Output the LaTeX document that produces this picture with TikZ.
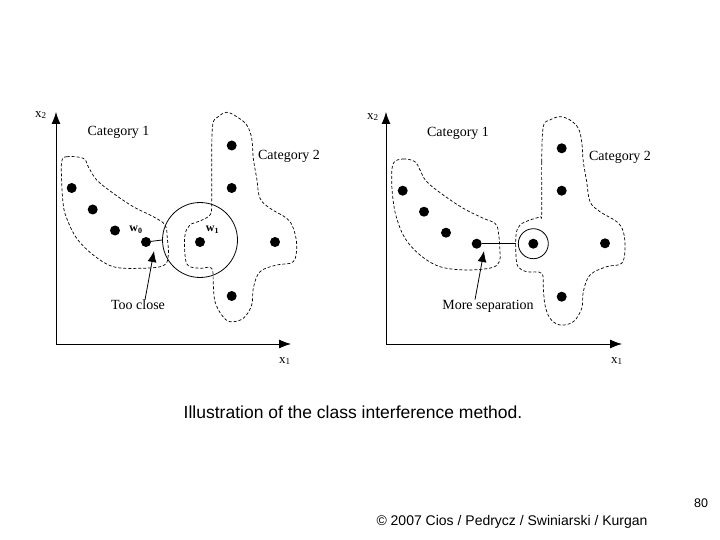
\documentclass[tikz,border=0pt]{standalone}
\usepackage{fontspec}
\setmainfont{Liberation Serif}
\newfontfamily\capfont{Liberation Sans}
\usetikzlibrary{arrows.meta}

\begin{document}
\begin{tikzpicture}[x=1pt,y=-1pt,
  dot/.style={circle,fill=black,inner sep=0pt,minimum size=10pt},
  region/.style={dash pattern=on 3pt off 2pt,line width=0.7pt},
  axis/.style={line width=0.8pt,-{Latex[length=12pt,width=9pt]}},
  pointer/.style={line width=0.8pt,-{Latex[length=11pt,width=9pt]}},
  lbl/.style={font=\fontsize{14}{16}\selectfont,inner sep=0pt},
  xlbl/.style={font=\fontsize{13}{15}\selectfont,inner sep=0pt},
  wlbl/.style={font=\fontsize{12}{14}\selectfont\bfseries,inner sep=0pt}]
\useasboundingbox (0,0) rectangle (720,540);

% Left panel: axes.
\coordinate (Lo) at (56,344);
\coordinate (Ly) at (56,112);
\coordinate (Lx) at (291,344);
\draw[axis] (Lo) -- (Ly);
\draw[axis] (Lo) -- (Lx);
\node[xlbl] (Lxlab) at (285,361) {x\textsubscript{1}};
\node[xlbl] (Lylab) at (41,115) {x\textsubscript{2}};

% Left panel: category regions.
\draw[region] plot[smooth cycle,tension=0.6] coordinates {
  (61.7,161.7) (66.7,156.7) (83.3,158.3) (88.3,166.7) (96.7,180)
  (113.3,193.3) (133.3,206.7) (153.3,216.7) (165,225) (167.3,238.3)
  (168.3,255) (163.3,265.7) (140,268.3) (113.3,266.7) (93.3,255)
  (76.7,238.3) (66.7,218.3) (63.3,205) (61.7,181.7)};
\draw[region] plot[smooth cycle,tension=0.6] coordinates {
  (211.7,205) (211.7,161.7) (212.7,125) (218.3,116.7) (226.7,112.3)
  (236.7,116.7) (246.7,125) (251.7,138.3) (253.3,158.3) (256.7,178.3)
  (260,198.3) (270,208.3) (286.7,218.3) (293.3,228.3) (296.7,245)
  (293.3,261.7) (276.7,265) (260,271.7) (253.3,288.3) (251.7,305)
  (243.3,318.3) (230,321.7) (221.7,315) (215,301.7) (213.3,285)
  (211.7,268.3) (200,268.3) (188.3,265.7) (185,255) (185,235)
  (190,225) (200,221) (210,215)};

% Left panel: samples.
\node[dot] (L1) at (71.7,188) {};
\node[dot] (L2) at (92.7,209.5) {};
\node[dot] (L3) at (115,230.5) {};
\node[dot] (Lw0) at (146,242) {};
\node[dot] (Lw1) at (200,242) {};
\node[dot] (L6) at (231.7,145.5) {};
\node[dot] (L7) at (231.7,188) {};
\node[dot] (L8) at (275,242) {};
\node[dot] (L9) at (231.7,296) {};
\node[draw,circle,line width=0.8pt,minimum size=75pt,inner sep=0pt] (Lring) at (200,240) {};
\draw[line width=0.8pt] (Lw0) -- (Lring.west);
\node[wlbl] (Lw0lab) at (136,230) {w\textsubscript{0}};
\node[wlbl] (Lw1lab) at (212.5,230) {w\textsubscript{1}};

% Left panel: labels.
\node[lbl] (Lc1) at (118.5,132) {Category 1};
\node[lbl] (Lc2) at (289,156) {Category 2};
\node[lbl] (Ltc) at (138,305) {Too close};
\coordinate (Lhit) at (154,251);
\draw[pointer] ([xshift=7pt]Ltc.north) -- (Lhit);

% Right panel: axes.
\coordinate (Ro) at (386,344);
\coordinate (Ry) at (386,112);
\coordinate (Rx) at (622,344);
\draw[axis] (Ro) -- (Ry);
\draw[axis] (Ro) -- (Rx);
\node[xlbl] (Rxlab) at (617,361) {x\textsubscript{1}};
\node[xlbl] (Rylab) at (373,117) {x\textsubscript{2}};

% Right panel: category regions.
\draw[region] plot[smooth cycle,tension=0.6] coordinates {
  (393.3,163.3) (403.3,159) (415,161.7) (420,170) (426.7,181.7)
  (443.3,195) (463.3,208.3) (483.3,218.3) (495,223.3) (498.3,231.7)
  (500,251.7) (499.3,261.7) (491.7,267.7) (466.7,270) (440,266.7)
  (420,255) (405,238.3) (396.7,218.3) (393.3,201.7) (391.7,181.7)};
\draw[region] plot[smooth cycle,tension=0.6] coordinates {
  (541.7,213.3) (541.7,161.7) (543.3,126.7) (550,120) (560,116.7)
  (570,120) (578.3,128.3) (581.7,141.7) (583.3,161.7) (586.7,181.7)
  (590,201.7) (600,211.7) (616.7,221.7) (623.3,231.7) (625,248.3)
  (621.7,263.3) (606.7,266.7) (590,275) (583.3,291.7) (581.7,308.3)
  (573.3,321.7) (560,325) (550,318.3) (545,305) (543.3,288.3)
  (541.7,273.3) (526.7,271.7) (518,266.7) (516,255) (516,235)
  (520,225) (530,220) (540,216.7)};

% Right panel: samples.
\node[dot] (R1) at (402.7,190.7) {};
\node[dot] (R2) at (424,211.7) {};
\node[dot] (R3) at (446,232.7) {};
\node[dot] (Rw0) at (476.7,243.7) {};
\node[dot] (Rw1) at (533.3,243.7) {};
\node[dot] (R6) at (561.7,148.3) {};
\node[dot] (R7) at (561.7,190.7) {};
\node[dot] (R8) at (605,243.3) {};
\node[dot] (R9) at (561.7,296.7) {};
\node[draw,circle,line width=0.8pt,minimum size=30pt,inner sep=0pt] (Rring) at (Rw1) {};
\coordinate (Rgap) at (516,243.7);
\draw[line width=0.8pt] (Rw0) -- (Rgap);

% Right panel: labels.
\node[lbl] (Rc1) at (458,133) {Category 1};
\node[lbl] (Rc2) at (620,157) {Category 2};
\node[lbl] (Rms) at (488,306) {More separation};
\coordinate (Rhit) at (484,251);
\draw[pointer] ([xshift=-13pt]Rms.north) -- (Rhit);

% Caption and footer.
\node[font=\capfont\fontsize{17.5}{20}\selectfont] (cap) at (353,412) {Illustration of the class interference method.};
\node[font=\capfont\fontsize{14}{16}\selectfont] (foot) at (512,522) {\textcopyright{} 2007 Cios / Pedrycz / Swiniarski / Kurgan};
\node[font=\capfont\fontsize{12.5}{14}\selectfont] (page) at (701,503) {80};
\end{tikzpicture}
\end{document}
